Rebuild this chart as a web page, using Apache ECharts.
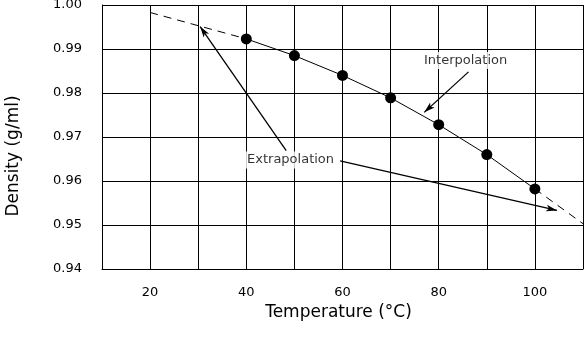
<!DOCTYPE html>
<html>
<head>
<meta charset="utf-8">
<script src="https://cdn.jsdelivr.net/npm/echarts@6/dist/echarts.min.js"></script>
<style>html,body{margin:0;padding:0;background:#fff}#c{width:584px;height:348px}</style>
</head>
<body>
<div id="c"></div>
<script>
// Measured data
const temps = [40, 50, 60, 70, 80, 90, 100];
const densities = [0.9923, 0.9885, 0.9840, 0.9789, 0.9728, 0.9660, 0.9582];
// Extrapolated ends (dashed)
const extrapLowTemp = [20, 40];
const extrapLowDens = [0.9983, 0.9923];
const extrapHighTemp = [100, 110];
const extrapHighDens = [0.9582, 0.9503];
// Annotation texts and arrows (data coordinates: [temp, density])
const labelTexts = ['Interpolation', 'Extrapolation'];
const labelPos = [[85.6, 0.9874], [49.2, 0.9648]];
const arrows = [
  [[86.2, 0.9848], [77.0, 0.9756]],
  [[48.3, 0.9669], [30.4, 0.9951]],
  [[59.5, 0.9646], [104.6, 0.9533]]
];
const xTickLabels = [20, 40, 60, 80, 100];

const FONT = 'DejaVu Sans';
const chart = echarts.init(document.getElementById('c'), null, {renderer: 'canvas'});
const pair = (xs, ys) => xs.map((x, i) => [x, ys[i]]);

chart.setOption({
  animation: false,
  backgroundColor: '#fff',
  grid: {left: 102, right: 1, top: 5, bottom: 79, show: false, containLabel: false, outerBoundsMode: 'none'},
  xAxis: {
    type: 'value', min: 10, max: 110, interval: 10,
    name: 'Temperature (°C)', nameLocation: 'middle', nameGap: 33,
    nameTextStyle: {fontFamily: FONT, fontSize: 17, color: '#000', padding: [0, 8, 0, 0]},
    axisLine: {show: true, onZero: false, lineStyle: {color: '#000', width: 1}},
    axisTick: {show: false},
    axisLabel: {
      fontFamily: FONT, fontSize: 13, color: '#000', margin: 17,
      formatter: v => xTickLabels.indexOf(v) >= 0 ? String(v) : ''
    },
    splitLine: {show: true, lineStyle: {color: '#000', width: 1}}
  },
  yAxis: {
    type: 'value', min: 0.94, max: 1.00, interval: 0.01,
    name: 'Density (g/ml)', nameLocation: 'middle', nameGap: 80,
    nameTextStyle: {fontFamily: FONT, fontSize: 17, color: '#000', padding: [0, 38, 0, 0]},
    axisLine: {show: true, onZero: false, lineStyle: {color: '#000', width: 1}},
    axisTick: {show: false},
    axisLabel: {fontFamily: FONT, fontSize: 13, color: '#000', margin: 20,
      formatter: v => v.toFixed(2)},
    splitLine: {show: true, lineStyle: {color: '#000', width: 1}}
  },
  series: [
    {
      type: 'line', data: pair(extrapLowTemp, extrapLowDens), symbol: 'none',
      lineStyle: {color: '#000', width: 1, type: [8, 6]}, z: 3
    },
    {
      type: 'line', data: pair(extrapHighTemp, extrapHighDens), symbol: 'none',
      lineStyle: {color: '#000', width: 1, type: [8, 6]}, z: 3
    },
    {
      type: 'line', data: pair(temps, densities), symbol: 'none',
      lineStyle: {color: '#000', width: 1}, z: 3,
      markLine: {
        silent: true, symbol: ['none', 'arrow'], symbolSize: [5, 11],
        lineStyle: {color: '#000', width: 1.3, type: 'solid'},
        label: {show: false},
        data: arrows.map(a => [{coord: a[0]}, {coord: a[1]}])
      }
    },
    {
      type: 'scatter', data: pair(temps, densities), symbol: 'circle', symbolSize: 11,
      itemStyle: {color: '#000', opacity: 1}, z: 4
    },
    {
      type: 'scatter', symbolSize: 0, z: 5,
      data: labelPos.map((p, i) => ({value: p, name: labelTexts[i]})),
      label: {
        show: true, position: 'inside', formatter: p => p.name,
        fontFamily: FONT, fontSize: 13, color: '#000',
        backgroundColor: '#fff', padding: [2, 2]
      }
    }
  ]
});
</script>
</body>
</html>
